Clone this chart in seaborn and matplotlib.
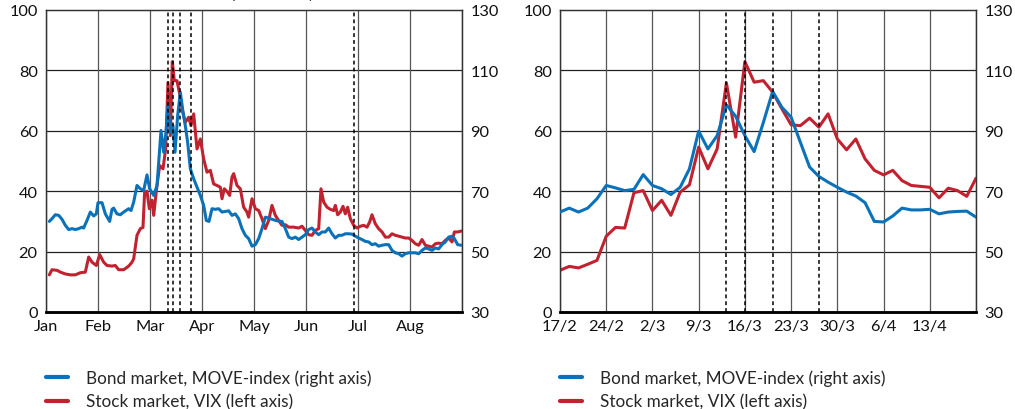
import numpy as np
import pandas as pd
import matplotlib

matplotlib.use("Agg")
import matplotlib.pyplot as plt
from matplotlib.lines import Line2D
import seaborn as sns

# -------------------------
# Data
# -------------------------

# left panel: x in months since 1 Jan (equal month widths)
months = ["Jan", "Feb", "Mar", "Apr", "May", "Jun", "Jul", "Aug"]

vix_x = [0.064, 0.115, 0.212, 0.276, 0.372, 0.468, 0.564, 0.660, 0.756, 0.821,
         0.885, 0.968, 1.032, 1.109, 1.173, 1.269, 1.333, 1.397, 1.494, 1.590,
         1.654, 1.686, 1.750, 1.814, 1.865, 1.897, 1.942, 1.987, 2.038, 2.071,
         2.122, 2.186, 2.250, 2.301, 2.346, 2.391, 2.429, 2.468, 2.519, 2.564,
         2.615, 2.679, 2.744, 2.788, 2.840, 2.904, 2.968, 3.032, 3.096, 3.160,
         3.224, 3.288, 3.353, 3.385, 3.429, 3.481, 3.532, 3.577, 3.609, 3.673,
         3.737, 3.801, 3.865, 3.897, 3.962, 4.026, 4.090, 4.154, 4.218, 4.282,
         4.346, 4.410, 4.474, 4.538, 4.603, 4.667, 4.763, 4.859, 4.923, 4.987,
         5.051, 5.115, 5.179, 5.244, 5.288, 5.340, 5.404, 5.468, 5.532, 5.564,
         5.609, 5.660, 5.712, 5.756, 5.801, 5.853, 5.917, 5.981, 6.045, 6.109,
         6.173, 6.224, 6.269, 6.333, 6.397, 6.462, 6.526, 6.590, 6.654, 6.718,
         6.782, 6.846, 6.910, 6.974, 7.038, 7.103, 7.167, 7.231, 7.295, 7.359,
         7.423, 7.487, 7.551, 7.615, 7.679, 7.744, 7.808, 7.853, 7.917, 7.987]
vix_y = [12.3, 14.0, 13.8, 13.2, 12.6, 12.3, 12.3, 13.0, 13.2, 18.2,
         16.5, 15.4, 19.0, 16.5, 15.4, 15.2, 15.4, 14.0, 14.0, 15.2,
         16.5, 17.6, 25.4, 27.6, 28.0, 39.7, 40.0, 34.2, 37.0, 32.0,
         40.2, 48.5, 47.4, 54.0, 76.0, 58.4, 82.9, 76.6, 76.6, 72.8,
         67.3, 62.8, 64.5, 61.7, 65.6, 54.0, 57.3, 50.7, 46.3, 46.9,
         42.4, 41.9, 41.3, 37.5, 40.8, 39.9, 38.6, 44.7, 45.8, 41.9,
         40.8, 34.7, 33.1, 31.4, 37.5, 34.2, 33.6, 30.9, 27.6, 30.3,
         35.3, 32.0, 30.3, 28.7, 28.9, 28.1, 28.1, 27.8, 28.4, 27.0,
         25.6, 25.4, 27.0, 27.6, 40.8, 36.4, 34.7, 34.0, 33.6, 35.3,
         32.2, 33.1, 35.0, 32.5, 34.7, 30.9, 28.7, 27.8, 28.4, 28.7,
         28.1, 29.8, 32.2, 29.2, 27.6, 26.5, 24.8, 24.8, 25.9, 25.4,
         25.1, 24.8, 24.5, 24.5, 23.7, 22.6, 22.1, 24.0, 22.1, 21.8,
         21.5, 22.6, 22.8, 22.6, 23.7, 24.5, 23.2, 26.5, 26.5, 26.8]

move_x = [0.064, 0.115, 0.179, 0.244, 0.308, 0.372, 0.436, 0.500, 0.564, 0.628,
          0.692, 0.724, 0.788, 0.853, 0.917, 0.968, 1.000, 1.077, 1.141, 1.224,
          1.269, 1.301, 1.365, 1.429, 1.494, 1.590, 1.635, 1.686, 1.750, 1.814,
          1.878, 1.942, 1.994, 2.071, 2.135, 2.212, 2.263, 2.308, 2.346, 2.391,
          2.442, 2.481, 2.532, 2.583, 2.635, 2.679, 2.724, 2.776, 2.840, 2.904,
          2.968, 3.032, 3.083, 3.135, 3.192, 3.256, 3.321, 3.385, 3.449, 3.513,
          3.577, 3.641, 3.705, 3.769, 3.833, 3.897, 3.962, 4.026, 4.090, 4.154,
          4.218, 4.282, 4.346, 4.442, 4.538, 4.603, 4.667, 4.731, 4.795, 4.859,
          4.923, 4.987, 5.051, 5.115, 5.179, 5.244, 5.308, 5.372, 5.436, 5.500,
          5.564, 5.628, 5.692, 5.756, 5.821, 5.885, 5.949, 6.013, 6.077, 6.141,
          6.205, 6.269, 6.333, 6.397, 6.462, 6.526, 6.590, 6.654, 6.718, 6.782,
          6.846, 6.910, 6.974, 7.038, 7.103, 7.167, 7.231, 7.295, 7.359, 7.423,
          7.487, 7.551, 7.615, 7.679, 7.744, 7.808, 7.853, 7.917, 7.987]
move_y = [60.0, 60.9, 62.2, 62.0, 60.7, 58.7, 57.3, 57.6, 57.3, 57.6,
          58.1, 57.8, 60.3, 63.1, 61.8, 62.5, 66.2, 66.2, 62.5, 60.0,
          64.0, 64.4, 62.5, 62.2, 63.1, 64.2, 63.6, 66.4, 71.9, 70.8,
          70.2, 75.4, 70.8, 68.6, 71.9, 90.1, 82.9, 89.5, 98.4, 89.5,
          91.7, 82.9, 95.0, 102.8, 96.2, 91.7, 86.2, 77.4, 74.1, 71.3,
          68.6, 65.3, 60.3, 60.0, 64.2, 64.0, 64.2, 63.1, 63.3, 63.5,
          62.0, 62.5, 60.9, 57.6, 55.4, 54.3, 51.8, 52.3, 54.3, 57.6,
          61.4, 61.1, 60.7, 60.2, 60.0, 57.6, 54.8, 54.3, 54.8, 54.0,
          54.8, 55.6, 57.3, 57.8, 56.5, 55.6, 56.5, 56.5, 57.8, 55.9,
          54.5, 55.4, 55.4, 55.9, 55.9, 55.8, 55.1, 54.5, 54.0, 53.4,
          53.2, 52.3, 52.6, 51.8, 52.1, 52.3, 52.3, 50.4, 49.6, 49.3,
          48.5, 49.3, 49.6, 49.6, 49.6, 49.3, 50.4, 51.2, 50.9, 50.4,
          51.2, 50.9, 52.3, 53.2, 54.8, 55.1, 54.3, 52.3, 52.1]

left_events = [2.340, 2.436, 2.577, 2.795, 5.929]

# right panel: business days 17/2 - 20/4
days = pd.bdate_range("2020-02-17", "2020-04-20")
vix_zoom = [13.8, 15.1, 14.6, 15.8, 17.1, 25.1, 28.0, 27.8, 39.5, 40.2,
            33.6, 37.0, 32.0, 39.7, 42.1, 54.6, 47.4, 54.0, 75.9, 57.9,
            82.9, 76.1, 76.6, 72.8, 67.3, 62.0, 61.7, 64.2, 61.2, 65.6,
            57.3, 53.7, 57.3, 50.7, 46.9, 45.4, 46.9, 43.5, 41.9, 41.6,
            41.3, 37.8, 41.0, 40.2, 38.3, 44.3]
move_zoom = [63.1, 64.4, 63.1, 64.4, 67.5, 71.9, 71.1, 70.2, 70.6, 75.5,
             71.9, 70.8, 68.9, 71.3, 77.4, 89.9, 84.0, 88.4, 98.6, 94.8,
             88.4, 83.1, 92.8, 103.0, 97.8, 94.5, 86.2, 78.0, 74.9, 73.0,
             71.3, 69.7, 68.4, 66.2, 60.0, 59.8, 61.8, 64.4, 63.8, 63.8,
             64.0, 62.5, 63.1, 63.3, 63.4, 61.4]
right_events = ["2020-03-12", "2020-03-16", "2020-03-19", "2020-03-26"]

BLUE = "#0B72BA"
RED = "#C1222F"
LABEL_MOVE = "Bond market, MOVE-index (right axis)"
LABEL_VIX = "Stock market, VIX (left axis)"

# -------------------------
# Style
# -------------------------

sns.set_theme(style="white")
plt.rcParams["font.family"] = ["Lato", "DejaVu Sans"]
plt.rcParams["font.size"] = 11

fig = plt.figure(figsize=(10.15, 4.10), dpi=100)
ax_l = fig.add_axes([46 / 1015, 97 / 410, 416 / 1015, 302 / 410])
ax_r = fig.add_axes([560 / 1015, 97 / 410, 416 / 1015, 302 / 410])

day_idx = np.arange(len(days))
day_pos = {d.strftime("%Y-%m-%d"): i for i, d in enumerate(days)}


def style_axes(ax, ax2, xmax, xticks, xlabels):
    ax.set_xlim(0, xmax)
    ax.set_ylim(0, 100)
    ax2.set_ylim(30, 130)
    ax.set_yticks([0, 20, 40, 60, 80, 100])
    ax2.set_yticks([30, 50, 70, 90, 110, 130])
    ax.set_xticks(xticks)
    ax.set_xticklabels(xlabels)
    for a in (ax, ax2):
        a.tick_params(length=0, labelsize=11.8, colors="#111111")
        a.set_xlabel("")
        a.set_ylabel("")
        for s in a.spines.values():
            s.set_color("#333333")
            s.set_linewidth(0.9)
        a.spines["bottom"].set_color("black")
        a.spines["bottom"].set_linewidth(1.8)
    ax.tick_params(axis="y", pad=6)
    ax.tick_params(axis="x", pad=5)
    ax2.tick_params(axis="y", pad=6)
    for yv in [20, 40, 60, 80]:
        ax.axhline(yv, color="#222222", lw=0.9, zorder=1)
    for xv in list(xticks) + [xmax]:
        ax.axvline(xv, color="#555555", lw=0.9, zorder=1)


# left panel
ax_l2 = ax_l.twinx()
sns.lineplot(x=vix_x, y=vix_y, ax=ax_l, color=RED, lw=2.2, zorder=3)
sns.lineplot(x=move_x, y=move_y, ax=ax_l2, color=BLUE, lw=2.2, zorder=3)
for ev in left_events:
    ax_l2.axvline(ev, color="black", lw=1.1, ls=(0, (2.5, 2)), zorder=4)
style_axes(ax_l, ax_l2, 8, range(len(months)), months)

# right panel
ax_r2 = ax_r.twinx()
sns.lineplot(x=day_idx, y=vix_zoom, ax=ax_r, color=RED, lw=2.2, zorder=3)
sns.lineplot(x=day_idx, y=move_zoom, ax=ax_r2, color=BLUE, lw=2.2, zorder=3)
for ev in right_events:
    ax_r2.axvline(day_pos[ev], color="black", lw=1.1, ls=(0, (2.5, 2)), zorder=4)
tick_idx = list(range(0, 41, 5))
tick_lab = [f"{days[i].day}/{days[i].month}" for i in tick_idx]
style_axes(ax_r, ax_r2, len(days) - 1, tick_idx, tick_lab)

# legends
handles = [Line2D([], [], color=BLUE, lw=3), Line2D([], [], color=RED, lw=3)]
for ax in (ax_l, ax_r):
    ax.legend(handles, [LABEL_MOVE, LABEL_VIX], loc="upper left",
              bbox_to_anchor=(0.0, -0.19), frameon=False, fontsize=12.3,
              borderpad=0, borderaxespad=0, handlelength=1.3,
              handletextpad=1.05, labelspacing=0.45)

# title clipped at the top edge of the picture
fig.text(0.262, 1.0 + 1 / 410, "Implied volatility", ha="center",
         va="baseline", fontsize=9.5)

fig.savefig("out.png", dpi=100)
plt.close(fig)
